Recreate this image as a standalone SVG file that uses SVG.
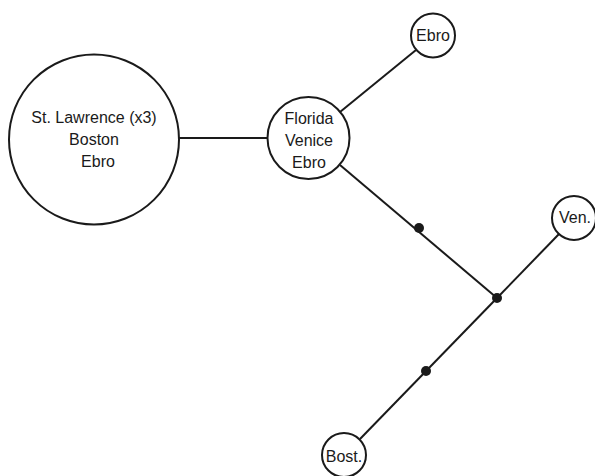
<svg xmlns="http://www.w3.org/2000/svg" width="595" height="476" viewBox="0 0 595 476">
<style>
.n{fill:#fff;stroke:#1a1a1a;stroke-width:2}
.e{stroke:#1a1a1a;stroke-width:2;fill:none}
.d{fill:#1a1a1a}
text{font-family:"Liberation Sans",Arial,sans-serif;font-size:16px;fill:#1a1a1a;text-anchor:middle}
</style>
<rect width="595" height="476" fill="#fff"/>
<g id="connectors">
<line class="e" x1="179" y1="138" x2="267" y2="138"/>
<line class="e" x1="340" y1="112" x2="416" y2="50"/>
<line class="e" x1="340" y1="165" x2="497" y2="298"/>
<line class="e" x1="497" y1="298" x2="559" y2="234"/>
<line class="e" x1="497" y1="298" x2="360" y2="439"/>
</g>
<g id="mid1"><circle class="d" cx="419" cy="228" r="5"/></g>
<g id="junction"><circle class="d" cx="497" cy="298" r="5"/></g>
<g id="mid2"><circle class="d" cx="426" cy="371" r="5"/></g>
<g id="stlawrence">
<circle class="n" cx="94" cy="139.5" r="85"/>
<text x="94" y="123">St. Lawrence (x3)</text>
<text x="94" y="145">Boston</text>
<text x="98" y="167">Ebro</text>
</g>
<g id="florida">
<circle class="n" cx="308.5" cy="138" r="41"/>
<text x="309" y="124">Florida</text>
<text x="309" y="146">Venice</text>
<text x="309" y="168">Ebro</text>
</g>
<g id="ebro">
<circle class="n" cx="433" cy="35.5" r="22"/>
<text x="433" y="41">Ebro</text>
</g>
<g id="venice">
<circle class="n" cx="574" cy="218" r="22"/>
<text x="575" y="223">Ven.</text>
</g>
<g id="boston">
<circle class="n" cx="344" cy="455" r="22"/>
<text x="344" y="462">Bost.</text>
</g>
</svg>
